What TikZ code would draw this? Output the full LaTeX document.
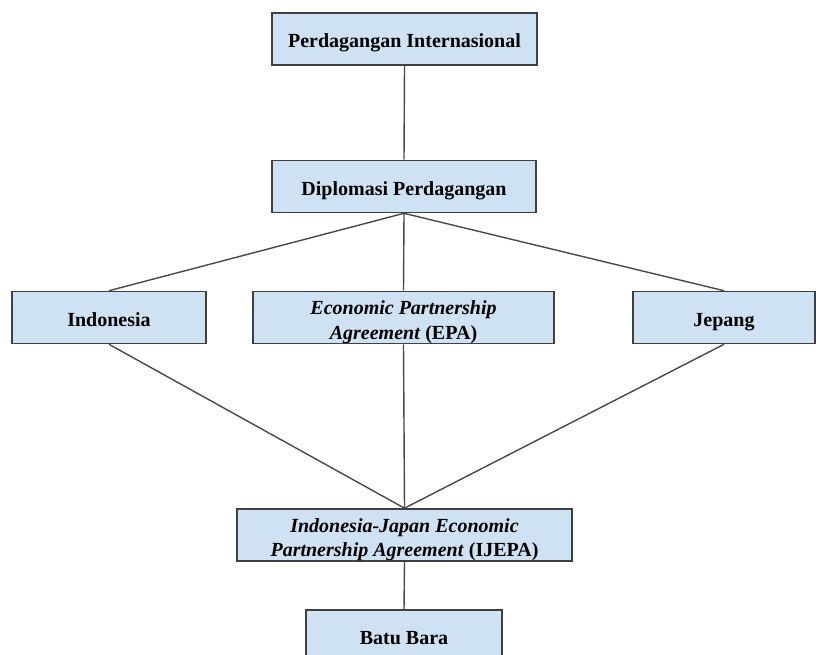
\documentclass[tikz,border=0pt]{standalone}
\usepackage{fontspec}
\setmainfont{Liberation Serif}
\definecolor{boxfill}{HTML}{CFE2F3}
\definecolor{boxline}{HTML}{404040}
\definecolor{conn}{HTML}{484848}
\begin{document}
\begin{tikzpicture}[x=1pt,y=-1pt,
  box/.style={draw=boxline, line width=1.6pt, fill=boxfill, inner sep=0pt,
    minimum height=52pt, font=\fontsize{20}{24.5}\selectfont\bfseries, align=center},
  one/.style={box, text height=20pt, text depth=3pt},
  two/.style={box, text height=45pt, text depth=2pt},
  conn/.style={draw=conn, line width=1.4pt}]
\path[use as bounding box] (0,0) rectangle (816,654);
\clip (0,0) rectangle (816,654);
\node[one, minimum width=265pt] (top) at (404.5,39) {Perdagangan Internasional};
\node[one, minimum width=264pt] (dip) at (404,186.5) {Diplomasi Perdagangan};
\node[one, minimum width=194pt] (ind) at (109,317.5) {Indonesia};
\node[two, minimum width=301pt] (epa) at (403.5,317.5) {\textit{Economic Partnership}\\\textit{Agreement} (EPA)};
\node[one, minimum width=182pt] (jep) at (724,317.5) {Jepang};
\node[two, minimum width=335pt] (ije) at (404.5,535) {\textit{Indonesia-Japan Economic}\\\textit{Partnership Agreement} (IJEPA)};
\node[one, minimum width=196pt] (bat) at (404,636) {Batu Bara};
\draw[conn] (top.south) -- (dip.north);
\draw[conn] (dip.south) -- (ind.north);
\draw[conn] (dip.south) -- (epa.north);
\draw[conn] (dip.south) -- (jep.north);
\draw[conn] (ind.south) -- (ije.north);
\draw[conn] (epa.south) -- (ije.north);
\draw[conn] (jep.south) -- (ije.north);
\draw[conn] (ije.south) -- (bat.north);
\end{tikzpicture}
\end{document}
